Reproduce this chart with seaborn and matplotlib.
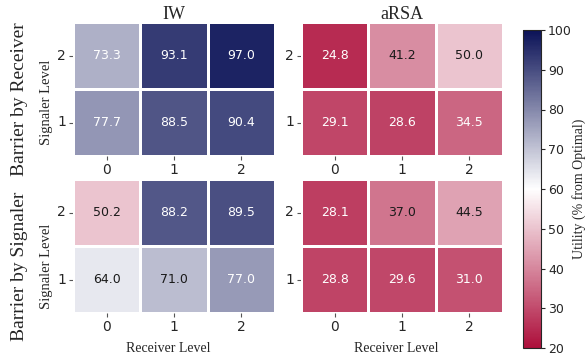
import numpy as np
import pandas as pd
import seaborn as sns
import matplotlib
matplotlib.use("Agg")
import matplotlib.pyplot as plt
from matplotlib.colors import LinearSegmentedColormap, Normalize
from matplotlib.cm import ScalarMappable

# Utility (% from optimal); rows = signaler level (2 on top), cols = receiver level 0..2
signaler_levels = [2, 1]
receiver_levels = [0, 1, 2]
iw_barrier_receiver = [[73.3, 93.1, 97.0],
                       [77.7, 88.5, 90.4]]
arsa_barrier_receiver = [[24.8, 41.2, 50.0],
                         [29.1, 28.6, 34.5]]
iw_barrier_signaler = [[50.2, 88.2, 89.5],
                       [64.0, 71.0, 77.0]]
arsa_barrier_signaler = [[28.1, 37.0, 44.5],
                         [28.8, 29.6, 31.0]]
model_names = ["IW", "aRSA"]
row_names = ["Barrier by Receiver", "Barrier by Signaler"]

sns.set_style("white")
plt.rcParams["font.family"] = ["DejaVu Sans"]
serif = "Liberation Serif"

cmap = LinearSegmentedColormap.from_list(
    "util", ["#ad0f3b", "#ffffff", "#0b1257"])
vmin, vmax = 20, 100
# annotation text is dark on the pale cells near the middle of the scale
dark_text_range = (36, 72)

fig = plt.figure(figsize=(5.85, 3.56), dpi=100)
W, H = 585, 356


def px_axes(x0, y0, x1, y1):
    return fig.add_axes([x0 / W, 1 - y1 / H, (x1 - x0) / W, (y1 - y0) / H])


grid = [[iw_barrier_receiver, arsa_barrier_receiver],
        [iw_barrier_signaler, arsa_barrier_signaler]]
xs = [(73, 275), (301, 503)]
ys = [(22, 156), (179, 313)]
ylabel_y = [0.4, 0.35]

for r in range(2):
    for c in range(2):
        ax = px_axes(xs[c][0], ys[r][0], xs[c][1], ys[r][1])
        df = pd.DataFrame(grid[r][c], index=signaler_levels, columns=receiver_levels)
        sns.heatmap(df, ax=ax, cmap=cmap, vmin=vmin, vmax=vmax, cbar=False,
                    annot=True, fmt=".1f", annot_kws={"fontsize": 9},
                    linewidths=1.0, linecolor="white")
        for txt in ax.texts:
            v = float(txt.get_text())
            lo, hi = dark_text_range
            txt.set_color("#1a1a1a" if lo <= v <= hi else "white")
        ax.tick_params(axis="both", labelsize=10, length=3, width=0.8, color="#555555",
                       left=True, bottom=True, pad=2)
        ax.set_yticklabels(ax.get_yticklabels(), rotation=0)
        ax.set_xticklabels(ax.get_xticklabels(), rotation=0)
        ax.set_xlabel("")
        ax.set_ylabel("")
        if r == 0:
            ax.set_title(model_names[c], fontsize=13, family=serif, pad=2)
        if r == 1:
            ax.set_xlabel("Receiver Level", fontsize=10, family=serif)
            ax.xaxis.set_label_coords(0.47, -0.22)
        if c == 0:
            ax.set_ylabel("Signaler Level", fontsize=10.5, family=serif)
            ax.yaxis.set_label_coords(-0.10, ylabel_y[r])

# Row labels
fig.text(20 / W, 1 - 99 / H, row_names[0], rotation=90, ha="center", va="center",
         fontsize=14, family=serif)
fig.text(20 / W, 1 - 266 / H, row_names[1], rotation=90, ha="center", va="center",
         fontsize=14, family=serif)

# Colorbar
cax = px_axes(523, 30, 541, 348)
sm = ScalarMappable(norm=Normalize(vmin, vmax), cmap=cmap)
cb = fig.colorbar(sm, cax=cax, ticks=np.arange(20, 101, 10))
cb.outline.set_linewidth(0.8)
cb.ax.tick_params(labelsize=9, length=3, width=0.8, pad=2)
cb.set_label("Utility (% from Optimal)", fontsize=10, family=serif, labelpad=0)

fig.savefig("out.png", dpi=100)
